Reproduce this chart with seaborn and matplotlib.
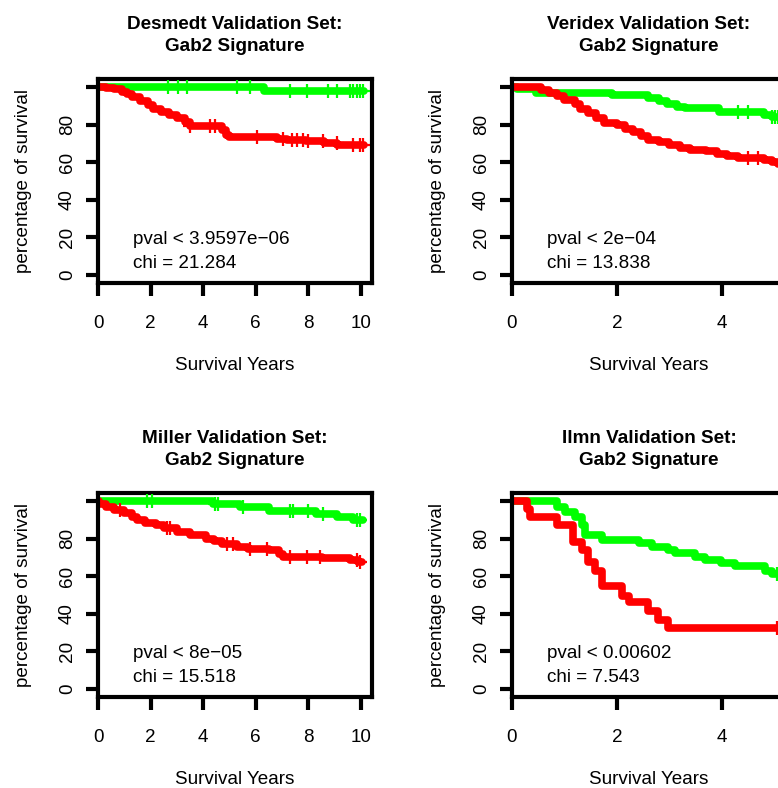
import numpy as np
import pandas as pd
import matplotlib
matplotlib.use("Agg")
import matplotlib.pyplot as plt
import matplotlib.transforms as mtransforms
import seaborn as sns

# ---------------- data ----------------
titles = ["Desmedt Validation Set:\nGab2 Signature",
          "Veridex Validation Set:\nGab2 Signature",
          "Miller Validation Set:\nGab2 Signature",
          "Ilmn Validation Set:\nGab2 Signature"]
pvals = ["pval < 3.9597e\u221206", "pval < 2e\u221204", "pval < 8e\u221205", "pval < 0.00602"]
chis = ["chi = 21.284", "chi = 13.838", "chi = 15.518", "chi = 7.543"]
x_max = [10.42, 5.22, 10.42, 5.22]
x_ticks = [[0, 2, 4, 6, 8, 10], [0, 2, 4], [0, 2, 4, 6, 8, 10], [0, 2, 4]]
y_ticks = [0, 20, 40, 60, 80, 100]
y_ticklabels = ["0", "20", "40", "60", "80", ""]

# Desmedt
desmedt_green_t = [0, 6.3, 10.1]
desmedt_green_s = [100, 98, 98]
desmedt_green_cens = [2.67, 3.05, 3.37, 5.27, 5.78, 7.3, 7.93, 8.76, 9.07, 9.58, 9.71, 9.84, 9.96, 10.09]
desmedt_red_t = [0, 0.3, 0.6, 0.9, 1.1, 1.3, 1.6, 1.9, 2.1, 2.4, 2.7, 3.0, 3.3, 3.5, 4.7, 4.85, 5.0, 6.8, 7.2, 7.9, 8.6, 9.1, 10.1]
desmedt_red_s = [100, 99.5, 98.8, 97.5, 96, 94.5, 92.5, 90.5, 88.5, 86.5, 85, 83.5, 81.5, 79, 77, 74.5, 73.5, 72.5, 71.8, 71, 70, 69.2, 69.2]
desmedt_red_cens = [3.5, 4.26, 4.45, 6.03, 7.05, 7.36, 7.55, 7.81, 8.0, 8.57, 9.07, 9.71, 9.96, 10.09]

# Veridex
veridex_green_t = [0, 0.1, 0.45, 1.9, 2.6, 2.8, 2.95, 3.15, 3.3, 3.95, 4.8, 4.95, 5.1]
veridex_green_s = [100, 99, 97, 95.6, 94, 92.5, 91, 89.5, 88.6, 86.5, 85, 84.2, 84.2]
veridex_green_cens = [4.31, 4.5, 4.95, 5.01, 5.07]
veridex_red_t = [0, 0.55, 0.7, 0.85, 1.0, 1.2, 1.3, 1.45, 1.6, 1.75, 2.0, 2.15, 2.3, 2.45, 2.6, 2.8, 3.0, 3.2, 3.4, 3.7, 3.9, 4.1, 4.3, 4.8, 4.95, 5.07, 5.2]
veridex_red_s = [100, 98.5, 97, 95, 93, 91, 88.5, 86, 83.5, 81, 79.5, 77.5, 76, 74, 72, 70.5, 69, 67.5, 66.5, 65.8, 64.5, 63.5, 62.3, 61.4, 60, 59, 59]
veridex_red_cens = [4.5, 4.69]

# Miller
miller_green_t = [0, 4.38, 5.4, 6.5, 8.3, 9.07, 9.7, 10.09]
miller_green_s = [100, 98.3, 96.5, 94.8, 93, 91.3, 90, 90]
miller_green_cens = [1.85, 2.04, 4.45, 4.57, 5.53, 7.3, 7.43, 8.0, 8.57, 9.84, 9.96]
miller_red_t = [0, 0.05, 0.3, 0.6, 1.0, 1.3, 1.5, 1.8, 2.2, 2.5, 3.0, 3.5, 4.1, 4.4, 4.7, 5.3, 5.7, 6.5, 6.9, 7.05, 8.5, 9.6, 9.9, 10.05]
miller_red_s = [100, 98.5, 96.5, 95, 93.5, 91.5, 90, 88, 87, 85.5, 83.5, 82, 80, 78.5, 77, 75.5, 74.5, 73.9, 72, 70.4, 69.6, 68.5, 67.8, 67.8]
miller_red_cens = [0.84, 2.61, 2.74, 4.89, 5.15, 5.78, 6.41, 7.3, 7.93, 8.44, 9.84, 9.96]

# Ilmn
ilmn_green_t = [0, 0.85, 1.01, 1.2, 1.33, 1.39, 1.71, 2.41, 2.66, 2.98, 3.1, 3.49, 3.68, 3.99, 4.25, 4.82, 4.95, 5.1]
ilmn_green_s = [100, 96.5, 93.9, 91.3, 87, 81.7, 79.1, 77.4, 75.6, 73.9, 72.2, 70.4, 68.7, 67, 65.2, 62.6, 60.9, 60.9]
ilmn_green_cens = [5.04]
ilmn_red_t = [0, 0.28, 0.34, 0.85, 1.17, 1.33, 1.45, 1.58, 1.71, 2.09, 2.22, 2.6, 2.79, 2.98, 5.1]
ilmn_red_s = [100, 95.7, 91.3, 87, 78.3, 73.9, 67.8, 62.6, 54.8, 49.6, 46.1, 41.7, 36.5, 32.2, 32.2]
ilmn_red_cens = [5.04]

curves = [
    [(desmedt_green_t, desmedt_green_s, desmedt_green_cens), (desmedt_red_t, desmedt_red_s, desmedt_red_cens)],
    [(veridex_green_t, veridex_green_s, veridex_green_cens), (veridex_red_t, veridex_red_s, veridex_red_cens)],
    [(miller_green_t, miller_green_s, miller_green_cens), (miller_red_t, miller_red_s, miller_red_cens)],
    [(ilmn_green_t, ilmn_green_s, ilmn_green_cens), (ilmn_red_t, ilmn_red_s, ilmn_red_cens)],
]
colors = ["#00FF00", "#FF0000"]

# ---------------- style ----------------
sns.set_style("white")
plt.rcParams["font.family"] = ["Liberation Sans", "DejaVu Sans"]
for k in ["text.color", "axes.labelcolor", "xtick.color", "ytick.color", "axes.edgecolor"]:
    plt.rcParams[k] = "black"
FS = 13.6

W, H = 778, 788
fig = plt.figure(figsize=(W / 100, H / 100), dpi=100)
lefts = [98, 512, 98, 512]
tops = [79, 79, 493, 493]
aw, ah = 274, 204

for i in range(4):
    ax = fig.add_axes([lefts[i] / W, 1 - (tops[i] + ah) / H, aw / W, ah / H])
    for (t, s, cens), col in zip(curves[i], colors):
        df = pd.DataFrame({"t": t, "s": s})
        sns.lineplot(data=df, x="t", y="s", ax=ax, color=col, linewidth=5.5,
                     drawstyle="steps-post", estimator=None, sort=False,
                     solid_joinstyle="round", solid_capstyle="round")
        t_arr = np.asarray(t)
        s_arr = np.asarray(s)
        idx = np.searchsorted(t_arr, cens, side="right") - 1
        cdf = pd.DataFrame({"t": cens, "s": s_arr[idx]})
        sns.scatterplot(data=cdf, x="t", y="s", ax=ax, color=col, marker="+",
                        s=90, linewidth=1.6, zorder=5)
    ax.set_xlim(0, x_max[i])
    ax.set_ylim(-4.2, 104.2)
    ax.set_xticks(x_ticks[i])
    ax.set_xticklabels([str(v) for v in x_ticks[i]], fontsize=FS)
    ax.set_yticks(y_ticks)
    ax.set_yticklabels(y_ticklabels, fontsize=FS, rotation=90, va="center")
    ax.tick_params(axis="both", direction="out", length=9, width=3,
                   color="black", labelcolor="black", pad=7, left=True, bottom=True)
    ax.tick_params(axis="x", pad=14)
    for sp in ax.spines.values():
        sp.set_visible(True)
        sp.set_color("black")
        sp.set_linewidth(3)
    ax.set_xlabel("Survival Years", fontsize=FS, labelpad=18, color="black")
    ax.set_ylabel("percentage of survival", fontsize=FS, labelpad=19, color="black")
    ax.set_title(titles[i], fontsize=FS, fontweight="bold", pad=20, linespacing=1.4,
                 color="black")
    trans = mtransforms.blended_transform_factory(ax.transAxes, ax.transData)
    ax.text(0.128, 20, pvals[i], transform=trans, fontsize=FS, ha="left",
            va="center_baseline", color="black")
    ax.text(0.128, 7.3, chis[i], transform=trans, fontsize=FS, ha="left",
            va="center_baseline", color="black")

fig.savefig("out.png", dpi=100)
